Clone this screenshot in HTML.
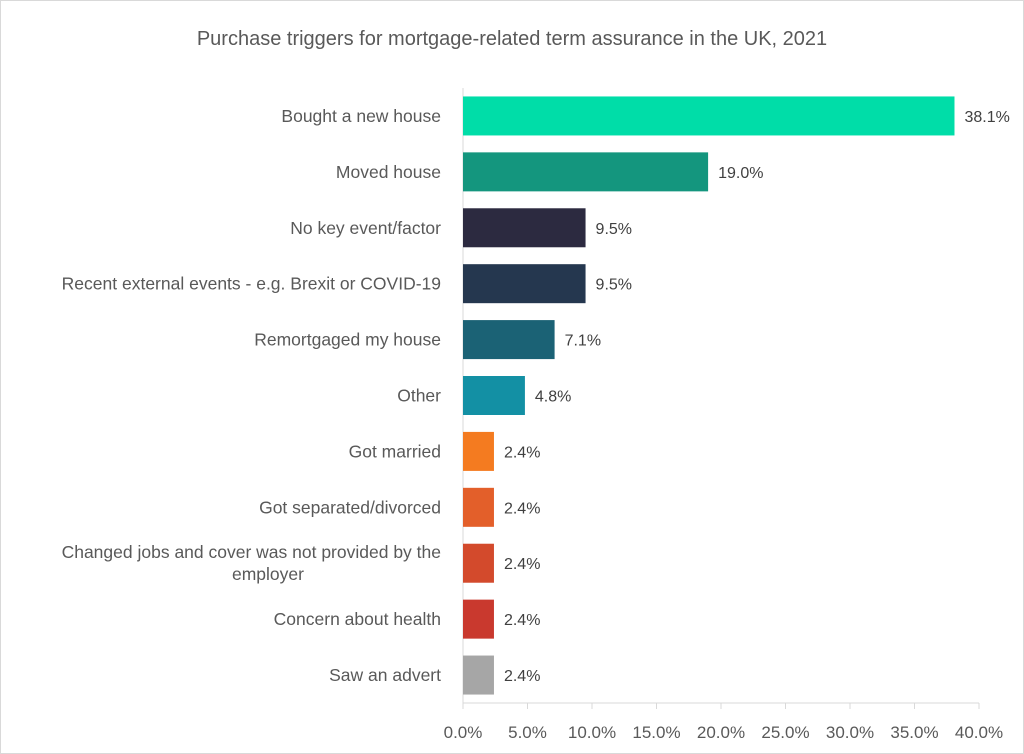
<!DOCTYPE html>
<html><head><meta charset="utf-8"><style>
html,body{margin:0;padding:0;background:#fff;}
svg{display:block;font-family:"Liberation Sans",sans-serif;}
</style></head><body>
<svg id="chart" width="1024" height="754">
<rect x="0.5" y="0.5" width="1023" height="753" fill="#fff" stroke="#d9d9d9"/>
<text x="512" y="45" text-anchor="middle" font-size="20" fill="#595959">Purchase triggers for mortgage-related term assurance in the UK, 2021</text>
<g id="plot"></g>
</svg>
<script>
const categories=["Bought a new house","Moved house","No key event/factor","Recent external events - e.g. Brexit or COVID-19","Remortgaged my house","Other","Got married","Got separated/divorced","Changed jobs and cover was not provided by the employer","Concern about health","Saw an advert"];
const values=[38.1,19.0,9.5,9.5,7.1,4.8,2.4,2.4,2.4,2.4,2.4];
const colors=["#00DDA8","#14967E","#2C2A40","#25374F","#1B6275","#1390A4","#F47B20","#E35F2A","#D34A2C","#C9392E","#A6A6A6"];
const ticks=[0,5,10,15,20,25,30,35,40];
const NS="http://www.w3.org/2000/svg";
const g=document.getElementById("plot");
const x0=463,x1=979,yTop=88,yBot=703;
const xs=v=>x0+(v/40)*(x1-x0);
const pitch=(yBot-yTop)/categories.length;
const yc=i=>yTop+pitch*(i+0.5);
function mk(t,a){const e=document.createElementNS(NS,t);for(const k in a)e.setAttribute(k,a[k]);g.appendChild(e);return e;}
let ax=mk("line",{x1:x0,y1:yTop,x2:x0,y2:yBot,stroke:"#d9d9d9"});


let bx=mk("line",{x1:x0,y1:yBot,x2:x1,y2:yBot,stroke:"#d9d9d9"});


ticks.forEach(t=>{
 const tk=mk("line",{x1:xs(t),y1:yBot,x2:xs(t),y2:yBot+6,stroke:"#d9d9d9"});
 
 
 const tl=mk("text",{x:xs(t),y:yBot+35,"text-anchor":"middle","font-size":"17",fill:"#595959"});
 tl.textContent=t.toFixed(1)+"%";
 
 
});
categories.forEach((c,i)=>{
 const y=yc(i),h=39;
 const b=mk("rect",{x:x0,y:y-h/2,width:xs(values[i])-x0,height:h,fill:colors[i]});
 
 
 const v=mk("text",{x:xs(values[i])+10,y:y+6,"font-size":"16",fill:"#404040"});
 v.textContent=values[i].toFixed(1)+"%";
 
 
 const l=mk("text",{x:441,y:y+6,"text-anchor":"end","font-size":"17.5",fill:"#595959"});
 
 
 if(c.length>50){
  l.setAttribute("y",y-5);
  const a=document.createElementNS(NS,"tspan");a.setAttribute("x",441);a.textContent="Changed jobs and cover was not provided by the";l.appendChild(a);
  const b2=document.createElementNS(NS,"tspan");b2.setAttribute("x",x0-195);b2.setAttribute("dy","22");b2.setAttribute("text-anchor","middle");b2.textContent="employer";l.appendChild(b2);
 } else l.textContent=c;
});
</script>
</body></html>
